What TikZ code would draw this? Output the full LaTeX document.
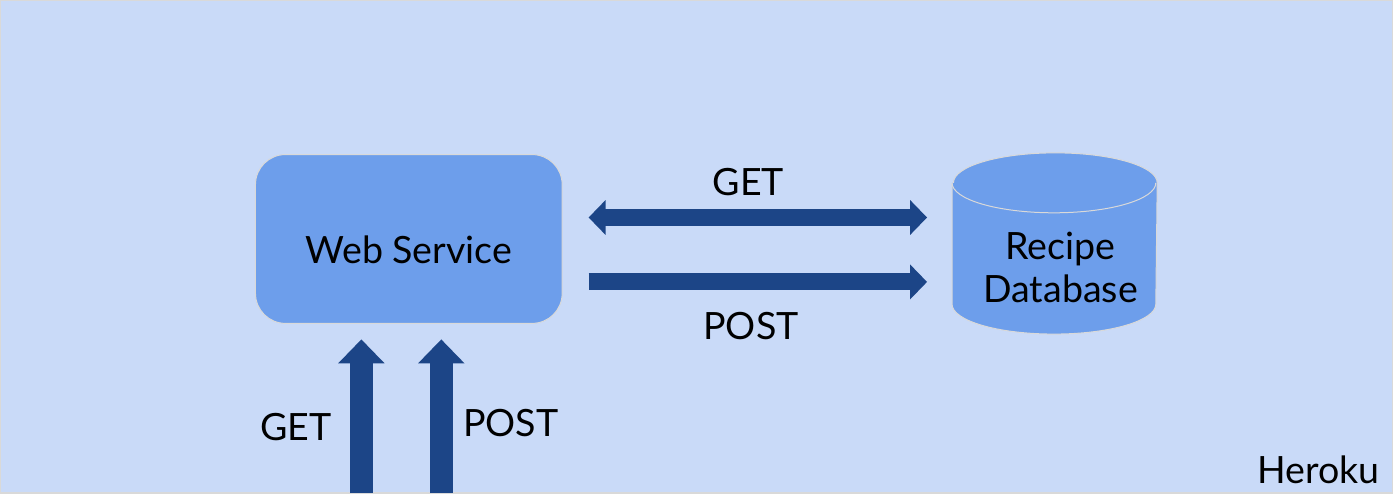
\documentclass[tikz,border=0pt]{standalone}
\usepackage{fontspec}
\setmainfont{Lato}
\usepackage{xcolor}
\usepackage{tikz}
\usetikzlibrary{arrows.meta, positioning}
\definecolor{slidebg}{HTML}{C9DAF8}
\definecolor{boxblue}{HTML}{6D9EEB}
\definecolor{arrowblue}{HTML}{1C4587}
\definecolor{edgegray}{HTML}{D9D9D9}

\tikzset{
  lbl/.style={font=\fontsize{10.7}{12.5}\selectfont, text=black, inner sep=0pt},
  flowh/.style={line width=0.17cm, arrowblue, arrows={-Triangle[length=0.17cm, width=0.34cm]}},
  flowv/.style={line width=0.23cm, arrowblue, arrows={-Triangle[length=0.24cm, width=0.45cm]}},
}

\begin{document}
\begin{tikzpicture}[scale=1.0]
  % slide background
  \draw[edgegray, line width=0.015cm, fill=slidebg] (0,0) rectangle (13.93,4.93);
  \useasboundingbox (0,0) rectangle (13.93,4.93);

  % web service box
  \node[lbl, draw=edgegray, line width=0.01cm, fill=boxblue, rounded corners=0.3cm,
        minimum width=3.07cm, minimum height=1.69cm, text height=0.5cm, text depth=0cm]
        (web) at (4.085,2.545) {Web Service};

  % recipe database cylinder
  \node[minimum width=2.04cm, minimum height=1.80cm, inner sep=0pt] (db) at (10.55,2.50) {};
  \draw[edgegray, line width=0.01cm, fill=boxblue]
    ([yshift=-0.30cm]db.north west) -- ([yshift=0.30cm]db.south west)
    arc (180:360:1.02cm and 0.30cm) -- ([yshift=-0.30cm]db.north east)
    arc (0:180:1.02cm and 0.30cm);
  \draw[edgegray, line width=0.01cm] ([yshift=-0.30cm]db.north west)
    arc (180:360:1.02cm and 0.30cm);
  \node[lbl, align=center] (dbtext) at (10.61,2.26) {Recipe\\Database};

  % service <-> database
  \coordinate (getfrom) at ([xshift=0.26cm, yshift=0.215cm]web.east);
  \coordinate (postfrom) at ([xshift=0.26cm, yshift=-0.43cm]web.east);
  \coordinate (dbin) at ([xshift=-0.25cm]db.west);
  \draw[flowh, arrows={Triangle[length=0.17cm, width=0.34cm]-Triangle[length=0.17cm, width=0.34cm]}]
    (getfrom) -- (dbin |- getfrom);
  \draw[flowh] (postfrom) -- (dbin |- postfrom);
  \node[lbl, anchor=base] (gettop) at (7.485,2.985) {GET};
  \node[lbl, anchor=base] (posttop) at (7.51,1.535) {POST};

  % requests coming in from below
  \coordinate (getin) at (3.61,0);
  \coordinate (postin) at (4.41,0);
  \coordinate (webin) at ([yshift=-0.155cm]web.south);
  \draw[flowv] (getin) -- (webin -| getin);
  \draw[flowv] (postin) -- (webin -| postin);
  \node[lbl, anchor=base] (getlow) at (2.955,0.53) {GET};
  \node[lbl, anchor=base] (postlow) at (5.105,0.57) {POST};

  \node[lbl, anchor=base east] (host) at (13.81,0.10) {Heroku};
\end{tikzpicture}
\end{document}
